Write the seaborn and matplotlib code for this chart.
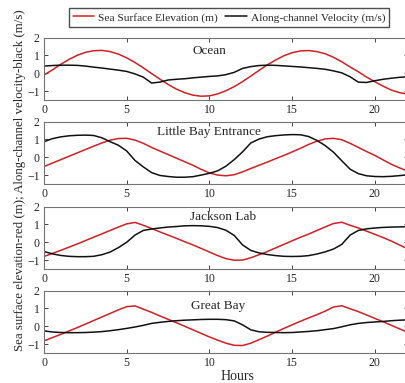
"""
Tidal elevation and along-channel velocity at four stations (Ocean to Great Bay).
"""

import matplotlib
matplotlib.use("Agg")
import matplotlib.pyplot as plt
import seaborn as sns

# ---- data (half-hour spacing) ----
hours = [0.0, 0.5, 1.0, 1.5, 2.0, 2.5, 3.0, 3.5, 4.0, 4.5, 5.0, 5.5, 6.0, 6.5, 7.0,
         7.5, 8.0, 8.5, 9.0, 9.5, 10.0, 10.5, 11.0, 11.5, 12.0, 12.5, 13.0, 13.5,
         14.0, 14.5, 15.0, 15.5, 16.0, 16.5, 17.0, 17.5, 18.0, 18.5, 19.0, 19.5,
         20.0, 20.5, 21.0, 21.5, 22.0]

stations = ["Ocean", "Little Bay Entrance", "Jackson Lab", "Great Bay"]

ocean_elev = [-0.10, 0.18, 0.49, 0.77, 1.00, 1.17, 1.26, 1.28, 1.21, 1.07, 0.86, 0.60,
              0.30, -0.02, -0.33, -0.63, -0.89, -1.09, -1.23, -1.29, -1.27, -1.16, -0.98,
              -0.75, -0.47, -0.16, 0.16, 0.47, 0.74, 0.98, 1.15, 1.25, 1.27, 1.21, 1.09,
              0.89, 0.64, 0.35, 0.08, -0.22, -0.48, -0.73, -0.95, -1.09, -1.18]
ocean_vel = [0.40, 0.43, 0.45, 0.45, 0.44, 0.40, 0.34, 0.29, 0.23, 0.17, 0.10, -0.04,
             -0.22, -0.55, -0.50, -0.38, -0.34, -0.31, -0.26, -0.22, -0.18, -0.15, -0.08,
             0.05, 0.27, 0.37, 0.43, 0.45, 0.44, 0.41, 0.38, 0.35, 0.31, 0.27, 0.22,
             0.13, 0.02, -0.20, -0.50, -0.52, -0.42, -0.34, -0.28, -0.23, -0.20]

lbe_elev = [-0.52, -0.33, -0.14, 0.05, 0.24, 0.43, 0.62, 0.80, 0.96, 1.05, 1.06, 0.96,
            0.78, 0.55, 0.35, 0.15, -0.05, -0.25, -0.45, -0.68, -0.88, -1.00, -1.04,
            -0.98, -0.82, -0.63, -0.45, -0.27, -0.08, 0.10, 0.30, 0.50, 0.72, 0.90, 1.03,
            1.06, 0.98, 0.78, 0.55, 0.32, 0.10, -0.15, -0.40, -0.60, -0.78]
lbe_vel = [0.87, 1.04, 1.14, 1.20, 1.23, 1.24, 1.22, 1.09, 0.87, 0.67, 0.35, -0.18,
           -0.54, -0.86, -1.02, -1.08, -1.12, -1.12, -1.09, -1.00, -0.90, -0.76, -0.50,
           -0.13, 0.30, 0.80, 1.02, 1.15, 1.21, 1.25, 1.27, 1.26, 1.16, 0.94, 0.65,
           0.28, -0.20, -0.67, -0.92, -1.04, -1.08, -1.09, -1.07, -1.03, -0.98]

jl_elev = [-0.80, -0.63, -0.46, -0.28, -0.10, 0.09, 0.28, 0.47, 0.66, 0.85, 1.03, 1.11,
           0.95, 0.77, 0.58, 0.40, 0.22, 0.03, -0.15, -0.35, -0.55, -0.75, -0.92, -1.01,
           -1.00, -0.87, -0.70, -0.52, -0.32, -0.12, 0.08, 0.28, 0.46, 0.66, 0.86, 1.05,
           1.12, 0.95, 0.80, 0.62, 0.44, 0.26, 0.06, -0.16, -0.38]
jl_vel = [-0.52, -0.65, -0.74, -0.79, -0.81, -0.81, -0.79, -0.70, -0.55, -0.30, 0.00,
          0.40, 0.66, 0.74, 0.80, 0.85, 0.88, 0.92, 0.93, 0.92, 0.89, 0.82, 0.67, 0.38,
          -0.15, -0.46, -0.60, -0.69, -0.75, -0.79, -0.80, -0.79, -0.75, -0.66, -0.54,
          -0.38, -0.12, 0.40, 0.66, 0.75, 0.80, 0.83, 0.85, 0.86, 0.87]

gb_elev = [-0.82, -0.64, -0.46, -0.27, -0.08, 0.12, 0.32, 0.52, 0.72, 0.92, 1.10, 1.14,
           0.96, 0.78, 0.58, 0.39, 0.20, 0.00, -0.20, -0.40, -0.60, -0.78, -0.95, -1.07,
           -1.08, -0.95, -0.75, -0.55, -0.33, -0.12, 0.08, 0.28, 0.47, 0.65, 0.85, 1.08,
           1.15, 0.98, 0.82, 0.63, 0.44, 0.25, 0.05, -0.15, -0.35]
gb_vel = [-0.26, -0.32, -0.35, -0.36, -0.36, -0.35, -0.33, -0.30, -0.25, -0.19, -0.12,
          -0.04, 0.05, 0.16, 0.22, 0.27, 0.31, 0.34, 0.36, 0.38, 0.39, 0.39, 0.37, 0.30,
          0.08, -0.20, -0.31, -0.34, -0.35, -0.36, -0.35, -0.32, -0.29, -0.25, -0.19,
          -0.13, -0.03, 0.08, 0.16, 0.21, 0.24, 0.27, 0.31, 0.34, 0.36]

elevations = [ocean_elev, lbe_elev, jl_elev, gb_elev]
velocities = [ocean_vel, lbe_vel, jl_vel, gb_vel]

# ---- style ----
sns.set_style("ticks")
plt.rcParams['font.family'] = ['Liberation Serif', 'DejaVu Serif']

RED = '#cf2027'
BLACK = '#111111'

fig = plt.figure(figsize=(4.06, 3.83), dpi=100)

bottoms = [0.739, 0.5196, 0.2977, 0.0783]
title_pos = [(0.455, 0.79), (0.452, 0.83), (0.493, 0.84), (0.479, 0.75)]

axes = []
for i, name in enumerate(stations):
    ax = fig.add_axes([44 / 406, bottoms[i], 364 / 406, 0.163])
    sns.lineplot(x=hours, y=elevations[i], ax=ax, color=RED, linewidth=1.1,
                 label='Sea Surface Elevation (m)', legend=False)
    sns.lineplot(x=hours, y=velocities[i], ax=ax, color=BLACK, linewidth=1.1,
                 label='Along-channel Velocity (m/s)', legend=False)
    ax.set_xlim(0, 22)
    ax.set_ylim(-1.5, 2)
    ax.set_xticks([0, 5, 10, 15, 20])
    ax.set_yticks([-1, 0, 1, 2])
    ax.tick_params(direction='in', top=True, right=True, length=3, width=0.6,
                   labelsize=8.5, pad=3, colors='0.15')
    for sp in ax.spines.values():
        sp.set_color('0.45')
        sp.set_linewidth(0.8)
    ax.text(title_pos[i][0], title_pos[i][1], name, transform=ax.transAxes,
            ha='center', va='center', fontsize=9.5)
    axes.append(ax)

handles = axes[0].get_lines()[:2]
fig.legend(handles, [h.get_label() for h in handles], loc='center',
           bbox_to_anchor=(229 / 406, 1 - 17.5 / 383), ncol=2, fontsize=8.2,
           frameon=True, fancybox=False, edgecolor='0.3', framealpha=1,
           handlelength=1.9, handletextpad=0.35, columnspacing=0.6, borderpad=0.35)

fig.text(20 / 406, 0.53, 'Sea surface elevation-red (m); Along-channel velocity-black (m/s)',
         rotation=90, ha='center', va='center', fontsize=9.3)
fig.text(237 / 406, 1 - 377 / 383, 'Hours', ha='center', va='center', fontsize=10)

fig.savefig('out.png', dpi=100)
